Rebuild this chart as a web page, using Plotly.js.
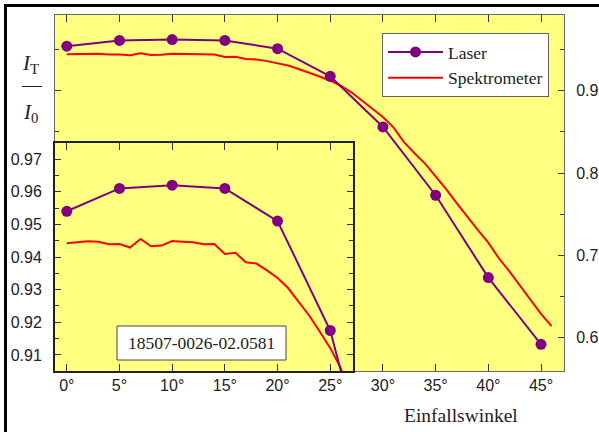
<!DOCTYPE html>
<html>
<head>
<meta charset="utf-8">
<script src="https://cdn.plot.ly/plotly-3.0.1.min.js"></script>
<style>html,body{margin:0;padding:0;background:#fff;}#chart{width:599px;height:432px;}</style>
</head>
<body>
<div id="chart"></div>
<script>
// ---- data ----
var laserAngles = [0, 5, 10, 15, 20, 25, 30, 35, 40, 45];
var laserValues = [0.954, 0.961, 0.962, 0.961, 0.951, 0.9175, 0.856, 0.773, 0.673, 0.592];

var spekAngles = [0,1,2,3,4,5,6,7,8,9,10,11,12,13,14,15,16,17,18,19,20,21,22,23,24,25,26,27,28,29,30,31,32,33,34,35,36,37,38,39,40,41,42,43,44,45,46];
var spekValues = [0.9442,0.9445,0.9448,0.9447,0.9439,0.9440,0.9429,0.9455,0.9433,0.9435,0.9449,0.9447,0.9445,0.9439,0.9440,0.9409,0.9413,0.9384,0.9380,0.9359,0.9336,0.9305,0.9264,0.9221,0.9172,0.9121,0.9060,0.8980,0.8880,0.8775,0.8680,0.8555,0.8375,0.8240,0.8115,0.7960,0.7805,0.7635,0.7465,0.7310,0.7155,0.6965,0.6805,0.6630,0.6455,0.6290,0.6140];

var xTickVals = [0, 5, 10, 15, 20, 25, 30, 35, 40, 45];
var xTickText = ['0°','5°','10°','15°','20°','25°','30°','35°','40°','45°'];
var mainYTicks = [0.6, 0.7, 0.8, 0.9];
var mainYText = ['0.6','0.7','0.8','0.9'];
var insetYTicks = [0.91, 0.92, 0.93, 0.94, 0.95, 0.96, 0.97];
var insetYText = ['0.91','0.92','0.93','0.94','0.95','0.96','0.97'];

var seriesNames = ['Laser', 'Spektrometer'];
var xLabel = 'Einfallswinkel';
var sampleId = '18507-0026-02.0581';

// ---- styling ----
var PURPLE = '#800080', RED = '#ff0000', YELLOW = '#ffff80';
var SERIF = 'Liberation Serif';
var SANS = 'Liberation Sans';

var traces = [
  {x: spekAngles, y: spekValues, xaxis: 'x', yaxis: 'y', mode: 'lines', name: seriesNames[1],
   line: {color: RED, width: 2}, legendrank: 2},
  {x: laserAngles, y: laserValues, xaxis: 'x', yaxis: 'y', mode: 'lines+markers', name: seriesNames[0],
   line: {color: PURPLE, width: 2}, marker: {color: PURPLE, size: 11}, legendrank: 1},
  {x: spekAngles, y: spekValues, xaxis: 'x2', yaxis: 'y2', mode: 'lines', showlegend: false,
   line: {color: RED, width: 2}},
  {x: laserAngles, y: laserValues, xaxis: 'x2', yaxis: 'y2', mode: 'lines+markers', showlegend: false,
   line: {color: PURPLE, width: 2}, marker: {color: PURPLE, size: 11}}
];

function px(x) { return (x - 55) / 509; }
function py(y) { return (371 - y) / 356; }

var layout = {
  width: 599, height: 432,
  margin: {l: 55, r: 35, t: 15, b: 61, pad: 0},
  paper_bgcolor: '#ffffff',
  plot_bgcolor: YELLOW,
  showlegend: true,
  legend: {x: px(382), y: py(33), xanchor: 'left', yanchor: 'top',
    bgcolor: '#ffffff', bordercolor: '#666666', borderwidth: 1,
    font: {family: SERIF, size: 17.5, color: '#222'}, itemwidth: 55, tracegroupgap: 0},
  xaxis: {domain: [0, 1], range: [-1.12, 47.18], tickvals: xTickVals, ticktext: xTickText,
    ticks: 'inside', ticklen: 7, tickcolor: '#333', tickwidth: 1,
    showline: true, linecolor: '#666', linewidth: 1, mirror: 'ticks',
    showgrid: false, zeroline: false, tickfont: {family: SANS, size: 16, color: '#222'},
    anchor: 'y'},
  yaxis: {domain: [0, 1], range: [0.5596, 0.9919], side: 'right',
    tickvals: mainYTicks, ticktext: mainYText, ticklabelstandoff: 8,
    ticks: 'inside', ticklen: 6, tickcolor: '#333', tickwidth: 1,
    minor: {dtick: 0.05, tick0: 0, ticks: 'inside', ticklen: 4, tickcolor: '#333', showgrid: false},
    showline: true, linecolor: '#666', linewidth: 1, mirror: 'ticks',
    showgrid: false, zeroline: false, tickfont: {family: SANS, size: 16, color: '#222'},
    anchor: 'x'},
  xaxis2: {domain: [0, 0.5855], range: [-1.12, 27.16], tickvals: xTickVals,
    showticklabels: false, ticks: 'inside', ticklen: 7, tickcolor: '#333', tickwidth: 1,
    showline: true, linecolor: '#222', linewidth: 2, mirror: 'ticks',
    showgrid: false, zeroline: false, anchor: 'y2'},
  yaxis2: {domain: [0, 0.6404], range: [0.9051, 0.9749], side: 'left',
    tickvals: insetYTicks, ticktext: insetYText, ticklabelstandoff: 8,
    ticks: 'inside', ticklen: 6, tickcolor: '#333', tickwidth: 1,
    minor: {dtick: 0.005, tick0: 0, ticks: 'inside', ticklen: 4, tickcolor: '#333', showgrid: false},
    showline: true, linecolor: '#222', linewidth: 2, mirror: 'ticks',
    showgrid: false, zeroline: false, tickfont: {family: SANS, size: 16, color: '#222'},
    anchor: 'x2'},
  shapes: [
    {type: 'line', xref: 'paper', yref: 'paper', x0: px(5.5), x1: px(5.5), y0: py(4), y1: py(440), line: {color: '#000', width: 3}},
    {type: 'line', xref: 'paper', yref: 'paper', x0: px(4), x1: px(610), y0: py(5.5), y1: py(5.5), line: {color: '#000', width: 3}},
    {type: 'line', xref: 'paper', yref: 'paper', x0: px(22), x1: px(42), y0: py(86.5), y1: py(86.5), line: {color: '#222', width: 1}},
    {type: 'rect', xref: 'paper', yref: 'paper', x0: px(117), x1: px(286), y0: py(360), y1: py(326),
     fillcolor: '#ffffff', line: {color: '#444', width: 1}, layer: 'above'}
  ],
  annotations: [
    {xref: 'paper', yref: 'paper', x: px(30.5), y: py(64), xanchor: 'center', yanchor: 'middle', showarrow: false,
     text: '<i>I</i><sub>T</sub>', font: {family: SERIF, size: 21, color: '#222'}},
    {xref: 'paper', yref: 'paper', x: px(30.5), y: py(113), xanchor: 'center', yanchor: 'middle', showarrow: false,
     text: '<i>I</i><sub>0</sub>', font: {family: SERIF, size: 21, color: '#222'}},
    {xref: 'paper', yref: 'paper', x: px(201.5), y: py(343), xanchor: 'center', yanchor: 'middle', showarrow: false,
     text: sampleId, font: {family: SERIF, size: 17.5, color: '#222'}},
    {xref: 'paper', yref: 'paper', x: px(461), y: py(415), xanchor: 'center', yanchor: 'middle', showarrow: false,
     text: xLabel, font: {family: SERIF, size: 19.5, color: '#222'}}
  ]
};

Plotly.newPlot('chart', traces, layout, {staticPlot: true, displayModeBar: false});
</script>
</body>
</html>
